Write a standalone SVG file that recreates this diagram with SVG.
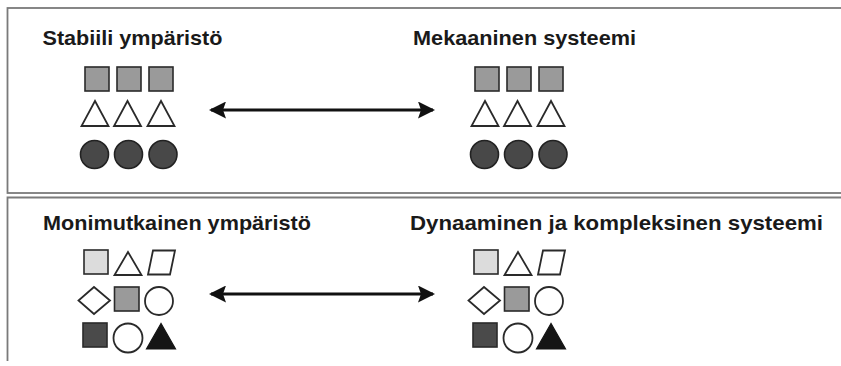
<svg xmlns="http://www.w3.org/2000/svg" width="841" height="366" viewBox="0 0 841 366">
  <style>
    .panel { fill: none; stroke: #7a7a7a; stroke-width: 1.8; }
    .title { font-family: "Liberation Sans Narrow", "Liberation Sans", "Arial Narrow", Arial, sans-serif; font-weight: bold; font-size: 20.5px; fill: #1a1a1a; }
    .sq-mid { fill: #9a9a9a; stroke: #2a2a2a; stroke-width: 1.6; }
    .sq-light { fill: #dcdcdc; stroke: #2a2a2a; stroke-width: 1.6; }
    .sq-dark { fill: #4a4a4a; stroke: #2a2a2a; stroke-width: 1.6; }
    .open { fill: #ffffff; stroke: #2a2a2a; stroke-width: 1.8; }
    .dot { fill: #484848; stroke: #222222; stroke-width: 1.6; }
    .solid { fill: #151515; stroke: #151515; stroke-width: 1.2; }
    .link { stroke: #111111; stroke-width: 3.2; fill: none; marker-start: url(#head); marker-end: url(#head); }
  </style>
  <defs>
    <marker id="head" viewBox="0 0 17 17" refX="15" refY="8.5" markerWidth="17" markerHeight="17" markerUnits="userSpaceOnUse" orient="auto-start-reverse">
      <path d="M0,0 L17,8.5 L0,17 L3,8.5 Z" fill="#111111"/>
    </marker>
    <!-- three-by-three sets of shapes, reused on both sides -->
    <g id="stable-set">
      <rect class="sq-mid" x="85" y="67" width="24" height="24"/>
      <rect class="sq-mid" x="117" y="67" width="24" height="24"/>
      <rect class="sq-mid" x="149" y="67" width="24" height="24"/>
      <polygon class="open" points="95,101 81.5,126 108.5,126"/>
      <polygon class="open" points="127.5,101 114,126 141,126"/>
      <polygon class="open" points="161,101 147.5,126 174.5,126"/>
      <circle class="dot" cx="94.5" cy="154.5" r="14"/>
      <circle class="dot" cx="128.5" cy="154.5" r="14"/>
      <circle class="dot" cx="163" cy="154.5" r="14"/>
    </g>
    <g id="complex-set">
      <rect class="sq-light" x="84" y="250" width="24" height="24"/>
      <polygon class="open" points="128,252 114.5,275 141.5,275"/>
      <polygon class="open" points="153,250.5 175,250.5 170,274.5 148,274.5"/>
      <polygon class="open" points="94,287 110,300.5 94,314 78.5,300.5"/>
      <rect class="sq-mid" x="114.5" y="287" width="24.5" height="24"/>
      <circle class="open" cx="159" cy="301" r="14"/>
      <rect class="sq-dark" x="83" y="323" width="24" height="24"/>
      <circle class="open" cx="128" cy="338" r="14.5"/>
      <polygon class="solid" points="161,323.5 146.5,349 175.5,349"/>
    </g>
  </defs>

  <!-- panel frames -->
  <rect class="panel" x="7.5" y="8" width="850" height="185"/>
  <path class="panel" d="M7.5,361 V197.5 H850"/>

  <g id="stable-environment">
    <text class="title" x="42.5" y="45" textLength="180" lengthAdjust="spacingAndGlyphs">Stabiili ympäristö</text>
    <use href="#stable-set"/>
  </g>
  <g id="mechanical-system">
    <text class="title" x="413" y="45" textLength="223" lengthAdjust="spacingAndGlyphs">Mekaaninen systeemi</text>
    <use href="#stable-set" x="390"/>
  </g>
  <g id="complex-environment">
    <text class="title" x="43" y="230" textLength="268" lengthAdjust="spacingAndGlyphs">Monimutkainen ympäristö</text>
    <use href="#complex-set"/>
  </g>
  <g id="dynamic-system">
    <text class="title" x="410" y="230" textLength="413" lengthAdjust="spacingAndGlyphs">Dynaaminen ja kompleksinen systeemi</text>
    <use href="#complex-set" x="390"/>
  </g>

  <g id="connectors">
    <line class="link" x1="211" y1="110" x2="433" y2="110"/>
    <line class="link" x1="211" y1="294" x2="433" y2="294"/>
  </g>
</svg>
